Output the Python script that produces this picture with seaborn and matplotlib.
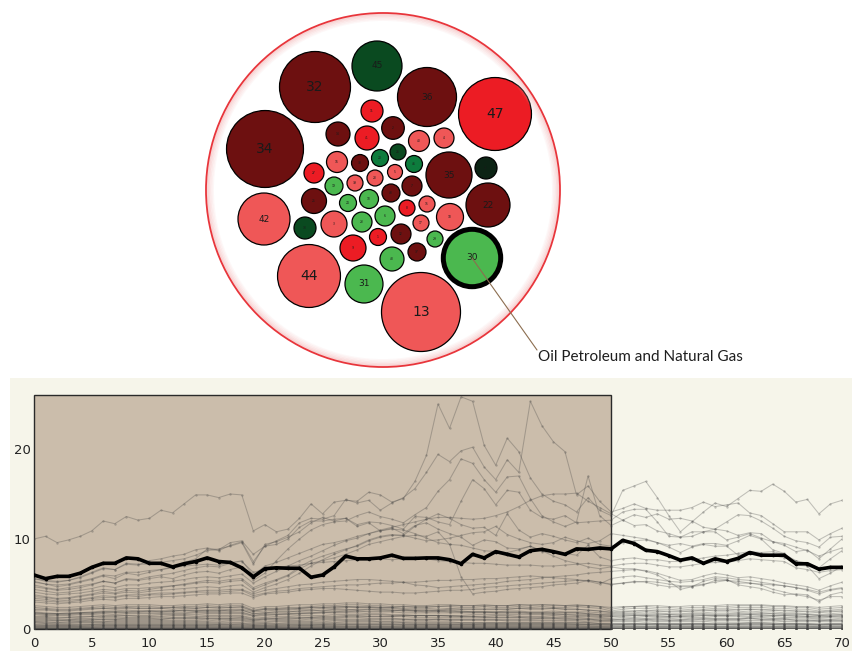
import numpy as np
import pandas as pd
import matplotlib
matplotlib.use("Agg")
import matplotlib.pyplot as plt
from matplotlib.patches import Circle, Rectangle
import seaborn as sns

# ---------------- bubble data ----------------
bubble_ids = [32, 45, 36, 47, 34, 35, 21, 22, 42, 44, 31, 13, 30,
              11, 14, 41, 2, 40, 4, 26, 20, 38, 16, 46, 27, 39, 28, 5, 7,
              19, 25, 24, 10, 43, 8, 15, 18, 33, 3, 23, 6, 17, 9, 1, 12,
              29, 37, 48]
bubble_value = [12.6, 6.25, 8.7, 13.3, 14.8, 5.3, 1.21, 4.84, 6.76, 9.9, 3.61, 15.6, 8.24,
                1.21, 1.44, 1.44, 1.28, 1.1, 1.0, 0.64, 0.72, 0.72, 1.1, 0.72, 1.0, 0.64,
                0.64, 0.56, 1.0, 0.81, 1.56, 0.72, 0.9, 0.81, 0.64, 0.64, 1.82, 1.21, 1.69,
                1.0, 1.0, 0.64, 1.69, 0.72, 1.0, 0.64, 0.81, 1.44]
bubble_group = ["deep_red", "dark_green", "deep_red", "red", "deep_red", "deep_red",
                "black_green", "deep_red", "salmon", "salmon", "green", "salmon", "green",
                "red", "deep_red", "red", "deep_red", "salmon", "salmon", "dark_green",
                "teal_green", "deep_red", "salmon", "teal_green", "red", "salmon", "salmon",
                "salmon", "deep_red", "green", "deep_red", "green", "green", "deep_red",
                "red", "salmon", "salmon", "dark_green", "salmon", "green", "green",
                "salmon", "red", "red", "deep_red", "green", "deep_red", "green"]

# packed layout of the bubbles (figure pixel space, y downwards)
bubble_x = [315, 377, 427, 495, 265, 449, 486, 488, 264, 309, 364, 421, 472,
            372, 338, 367, 393, 419, 444, 398, 380, 360, 337, 414, 314, 355, 375, 395, 412,
            334, 314, 348, 369, 391, 407, 427, 450, 305, 334, 362, 385, 421, 353, 378, 401,
            435, 417, 392]
bubble_y = [87, 66, 97, 114, 149, 175, 168, 205, 219, 276, 284, 312, 258,
            111, 134, 138, 128, 141, 138, 152, 158, 163, 162, 164, 173, 183, 178, 172, 186,
            186, 201, 203, 199, 193, 208, 204, 217, 228, 224, 222, 216, 223, 248, 237, 234,
            239, 252, 259]

group_colors = {
    "deep_red": "#6d1010",
    "red": "#ec1c24",
    "salmon": "#ef5757",
    "green": "#4bb84f",
    "teal_green": "#0d7c3d",
    "dark_green": "#0a4a20",
    "black_green": "#0c2314",
}

highlight_id = 30
highlight_name = "Oil Petroleum and Natural Gas"

# ---------------- time series ----------------
steps = list(range(71))

s30 = [6.0, 5.6, 5.85, 5.85, 6.2, 6.85, 7.3, 7.3, 7.9, 7.8,
       7.3, 7.3, 6.9, 7.25, 7.5, 7.9, 7.5, 7.4, 6.8, 5.8,
       6.7, 6.8, 6.75, 6.75, 5.75, 6.0, 6.9, 8.1, 7.8, 7.8,
       7.9, 8.2, 7.85, 7.85, 7.9, 7.9, 7.7, 7.25, 8.3, 7.9,
       8.6, 8.3, 8.0, 8.7, 8.85, 8.6, 8.3, 8.9, 8.85, 9.0,
       8.9, 9.85, 9.5, 8.75, 8.6, 8.15, 7.65, 7.9, 7.3, 7.8,
       7.5, 7.85, 8.5, 8.2, 8.2, 8.2, 7.25, 7.25, 6.65, 6.85,
       6.85]

s34 = [10.0, 10.3, 9.6, 9.9, 10.3, 10.9, 12.0, 11.7, 12.5, 12.1,
       12.3, 13.2, 12.9, 13.9, 14.9, 14.9, 14.6, 15.0, 14.9, 10.9,
       11.6, 10.8, 11.1, 12.3, 13.9, 12.8, 14.1, 14.3, 14.2, 15.2,
       14.9, 14.1, 14.5, 16.4, 19.3, 25.0, 22.3, 25.8, 25.3, 20.4,
       18.2, 21.2, 19.7, 16.8, 15.0, 14.2, 13.8, 13.0, 14.6, 13.2,
       12.6, 15.4, 15.9, 16.4, 14.6, 12.6, 10.8, 11.9, 13.0, 14.0,
       13.6, 14.5, 15.4, 15.3, 16.1, 15.3, 14.1, 14.4, 12.8, 13.9,
       14.3]
s47 = [5.3, 5.0, 4.7, 4.9, 5.2, 5.5, 5.9, 5.6, 6.2, 6.0,
       6.3, 6.6, 6.9, 7.4, 7.8, 8.9, 8.7, 9.3, 9.7, 7.5,
       9.2, 9.8, 10.4, 11.8, 12.3, 12.2, 12.6, 14.4, 14.0, 14.3,
       13.2, 14.0, 14.6, 15.6, 17.4, 19.4, 18.6, 19.8, 20.2, 18.0,
       16.6, 18.8, 17.4, 25.3, 22.6, 20.8, 19.7, 14.9, 15.9, 14.2,
       13.0, 13.4, 13.9, 13.4, 13.2, 13.2, 13.2, 13.5, 14.1, 13.6,
       13.8, 14.0, 12.9, 12.6, 11.7, 10.8, 10.8, 10.8, 9.9, 10.6,
       11.2]
s32 = [5.6, 5.3, 5.2, 5.4, 5.8, 6.3, 6.8, 6.6, 7.2, 7.1,
       7.6, 7.8, 8.1, 8.3, 8.8, 9.0, 8.8, 9.6, 9.8, 8.3,
       9.2, 9.4, 10.0, 11.3, 12.0, 12.0, 12.2, 12.3, 11.6, 11.9,
       11.8, 11.5, 11.1, 12.5, 12.4, 11.9, 11.6, 14.2, 16.6, 15.6,
       13.8, 15.4, 15.2, 13.2, 12.4, 12.2, 12.6, 11.8, 11.9, 12.0,
       12.1, 13.0, 13.3, 13.3, 11.9, 10.3, 10.2, 10.3, 10.8, 10.8,
       9.9, 10.2, 10.6, 10.1, 9.7, 9.3, 8.6, 8.8, 7.8, 8.9,
       10.0]
s13 = [4.9, 4.6, 4.4, 4.6, 4.8, 5.0, 5.3, 5.1, 5.5, 5.4,
       5.6, 5.8, 5.6, 6.0, 6.3, 6.4, 6.2, 6.6, 6.9, 5.4,
       6.2, 7.6, 8.9, 10.0, 11.0, 11.6, 11.9, 12.0, 12.6, 13.0,
       12.5, 12.2, 11.8, 12.7, 13.5, 15.3, 16.6, 18.9, 18.4, 16.6,
       15.2, 16.9, 17.0, 14.5, 12.6, 11.9, 11.4, 11.9, 17.0, 12.6,
       11.5, 12.1, 12.7, 12.4, 12.8, 12.2, 12.3, 12.0, 11.3, 11.1,
       11.9, 12.7, 12.6, 12.0, 11.2, 10.3, 9.8, 9.6, 9.1, 10.2,
       10.3]
s44 = [4.4, 4.2, 4.0, 4.1, 4.3, 4.5, 4.8, 4.6, 4.9, 4.9,
       5.1, 5.2, 5.3, 5.5, 5.7, 5.8, 5.7, 5.9, 6.1, 5.1,
       5.8, 6.4, 7.0, 7.6, 8.1, 8.7, 9.3, 9.8, 10.1, 10.6,
       11.0, 11.3, 11.6, 11.9, 12.2, 12.4, 12.4, 12.3, 12.2, 12.3,
       12.6, 13.0, 13.6, 14.3, 14.8, 15.0, 15.0, 15.1, 14.2, 13.5,
       12.8, 12.1, 11.5, 11.6, 10.9, 10.6, 10.2, 10.8, 10.8, 11.1,
       10.9, 10.4, 10.7, 10.6, 9.7, 9.5, 9.1, 8.7, 8.1, 8.6,
       9.0]
s36 = [3.8, 3.6, 3.4, 3.5, 3.7, 3.9, 4.2, 4.0, 4.3, 4.2,
       4.4, 4.6, 4.8, 5.0, 5.2, 5.4, 5.3, 5.5, 5.6, 4.6,
       5.1, 5.5, 6.0, 6.9, 7.6, 8.1, 8.5, 8.9, 9.2, 9.8,
       10.2, 10.4, 10.4, 11.4, 12.2, 12.8, 12.3, 11.6, 11.2, 11.3,
       10.4, 12.8, 11.0, 10.2, 10.6, 10.3, 9.9, 9.6, 10.1, 9.4,
       9.2, 9.6, 9.8, 9.9, 9.6, 9.1, 8.5, 9.1, 9.4, 9.2,
       9.2, 8.2, 8.5, 8.4, 8.2, 7.9, 7.6, 7.3, 6.8, 7.8,
       8.7]
s42 = [5.6, 5.4, 5.3, 5.4, 5.7, 6.2, 6.7, 6.6, 7.3, 7.2,
       7.2, 7.4, 7.6, 7.8, 8.2, 8.7, 8.9, 9.2, 9.6, 7.2,
       9.4, 9.7, 10.2, 10.8, 11.8, 12.4, 12.0, 12.3, 11.4, 11.8,
       10.9, 11.2, 10.6, 11.5, 11.8, 11.1, 10.6, 10.2, 9.3, 9.9,
       9.7, 9.0, 8.9, 9.2, 8.6, 8.5, 8.4, 8.2, 9.3, 8.0,
       7.6, 7.8, 7.9, 7.7, 7.7, 7.5, 7.5, 7.7, 7.9, 8.1,
       8.2, 8.4, 8.6, 8.5, 8.6, 8.3, 7.6, 7.0, 6.7, 6.8,
       7.0]
s22 = [4.1, 3.9, 3.8, 3.9, 4.0, 4.2, 4.4, 4.3, 4.5, 4.5,
       4.6, 4.7, 4.8, 4.9, 5.1, 5.2, 5.1, 5.3, 5.4, 4.4,
       4.9, 5.4, 5.9, 6.7, 7.3, 7.6, 7.9, 8.3, 8.8, 9.4,
       9.7, 10.0, 10.3, 10.4, 10.3, 10.8, 9.4, 5.8, 3.9, 4.1,
       4.2, 4.4, 4.5, 4.6, 4.7, 4.9, 5.0, 5.1, 5.4, 5.2,
       5.0, 5.1, 5.2, 5.3, 5.2, 5.0, 4.8, 4.8, 5.0, 5.2,
       5.4, 5.3, 5.1, 5.0, 4.9, 4.8, 4.6, 4.4, 4.1, 4.4,
       4.6]
s45 = [5.2, 5.0, 4.9, 5.0, 5.3, 5.6, 6.0, 5.9, 6.3, 6.3,
       6.5, 6.6, 6.8, 7.0, 7.1, 7.2, 7.1, 7.4, 7.5, 6.3,
       6.6, 6.8, 7.0, 7.1, 7.3, 7.4, 7.5, 7.6, 7.7, 7.8,
       7.8, 7.7, 7.8, 7.9, 7.8, 7.6, 7.5, 7.4, 7.3, 7.3,
       7.2, 7.1, 7.1, 7.1, 7.0, 7.0, 7.1, 7.2, 7.3, 7.1,
       7.0, 7.2, 7.3, 7.3, 7.1, 6.9, 6.9, 7.1, 7.3, 7.4,
       7.4, 7.6, 7.8, 7.7, 7.6, 7.5, 6.8, 6.6, 6.3, 6.5,
       6.6]
s35 = [3.4, 3.3, 3.1, 3.2, 3.3, 3.5, 3.7, 3.6, 3.8, 3.8,
       3.9, 4.0, 4.0, 4.1, 4.2, 4.3, 4.3, 4.4, 4.4, 3.9,
       4.3, 4.5, 4.7, 4.9, 5.0, 5.2, 5.3, 5.4, 5.5, 5.5,
       5.4, 5.3, 5.2, 4.9, 4.8, 4.6, 4.7, 4.8, 4.9, 5.0,
       5.1, 5.3, 5.4, 5.5, 5.7, 5.8, 5.9, 6.0, 6.2, 6.3,
       6.4, 6.5, 6.6, 6.5, 6.2, 5.8, 5.4, 5.5, 5.9, 6.2,
       6.0, 5.7, 5.8, 5.6, 5.4, 5.1, 4.9, 4.7, 4.3, 4.8,
       5.2]
s31 = [3.0, 2.9, 2.8, 2.9, 3.0, 3.2, 3.3, 3.2, 3.4, 3.4,
       3.5, 3.6, 3.6, 3.7, 3.8, 3.9, 3.9, 4.0, 4.0, 3.5,
       3.9, 4.0, 4.1, 4.3, 4.4, 4.5, 4.5, 4.4, 4.3, 4.2,
       4.1, 4.1, 4.0, 4.0, 4.1, 4.2, 4.3, 4.3, 4.4, 4.6,
       4.7, 4.8, 4.9, 5.0, 5.1, 5.2, 5.3, 5.4, 5.4, 5.2,
       4.9, 5.1, 5.3, 5.2, 4.9, 4.7, 4.7, 4.7, 4.9, 5.4,
       5.4, 5.1, 5.1, 4.9, 4.4, 4.1, 3.8, 3.6, 3.2, 3.6,
       3.6]
s18 = [4.7, 4.5, 4.3, 4.4, 4.6, 4.9, 5.3, 5.1, 5.6, 5.5,
       5.8, 6.0, 6.2, 6.5, 6.8, 7.0, 6.9, 7.3, 7.6, 6.0,
       7.0, 7.4, 7.9, 8.4, 8.9, 9.4, 9.6, 9.9, 10.3, 10.6,
       10.9, 11.1, 11.0, 10.6, 10.1, 9.6, 9.4, 9.3, 9.0, 8.7,
       8.6, 8.5, 8.8, 9.2, 8.7, 8.1, 7.6, 7.3, 6.9, 6.7,
       6.9, 6.7, 6.7, 6.4, 6.0, 5.3, 4.4, 4.7, 5.3, 5.6,
       5.5, 4.9, 4.7, 4.5, 4.1, 3.8, 3.9, 3.8, 3.0, 3.8,
       4.1]
s9 = [3.6, 3.5, 3.3, 3.4, 3.6, 3.8, 4.0, 3.9, 4.1, 4.0,
      4.2, 4.3, 4.4, 4.5, 4.6, 4.7, 4.6, 4.8, 4.9, 4.1,
      4.6, 5.0, 5.5, 6.2, 7.0, 7.7, 8.3, 8.8, 9.3, 9.9,
      10.3, 10.5, 10.4, 10.1, 9.8, 9.9, 10.1, 10.4, 10.7, 10.8,
      11.4, 10.5, 10.0, 9.6, 9.4, 9.6, 10.2, 9.8, 9.5, 9.8,
      10.6, 10.4, 10.2, 10.0, 9.6, 9.3, 9.5, 9.2, 9.5, 9.5,
      9.3, 9.8, 10.4, 10.0, 8.8, 8.4, 7.1, 7.0, 5.6, 6.2,
      7.0]
s3 = [3.2, 3.1, 3.0, 3.0, 3.2, 3.4, 3.5, 3.5, 3.7, 3.6,
      3.8, 3.8, 3.9, 4.0, 4.1, 4.1, 4.1, 4.2, 4.3, 3.7,
      4.0, 4.2, 4.3, 4.5, 4.6, 4.7, 4.8, 4.9, 4.9, 5.0,
      5.1, 5.1, 5.2, 5.2, 5.3, 5.4, 5.4, 5.5, 5.5, 5.6,
      5.6, 5.7, 5.8, 5.9, 5.8, 5.7, 5.6, 5.5, 5.3, 5.0,
      5.6, 5.8, 5.9, 5.7, 5.5, 5.3, 5.2, 5.3, 5.5, 5.8,
      5.7, 5.5, 5.4, 5.2, 5.0, 4.8, 4.6, 4.3, 3.9, 4.3,
      4.5]

s41 = [2.6, 2.5, 2.4, 2.4, 2.5, 2.6, 2.7, 2.6, 2.7, 2.7, 2.7, 2.6, 2.6, 2.7, 2.7, 2.8, 2.7, 2.8, 2.8, 2.3, 2.5, 2.5, 2.6, 2.7, 2.7, 2.8, 2.8, 2.9, 2.9, 2.8, 2.8, 2.7, 2.7, 2.6, 2.6, 2.7, 2.7, 2.6, 2.6, 2.7, 2.6, 2.6, 2.7, 2.6, 2.7, 2.6, 2.6, 2.7, 2.6, 2.5, 2.2, 2.4, 2.5, 2.5, 2.4, 2.4, 2.3, 2.4, 2.4, 2.5, 2.5, 2.6, 2.6, 2.6, 2.5, 2.5, 2.4, 2.4, 2.2, 2.3, 2.4]
s2 = [2.4, 2.3, 2.2, 2.2, 2.3, 2.4, 2.5, 2.4, 2.5, 2.5, 2.5, 2.4, 2.4, 2.5, 2.5, 2.6, 2.5, 2.6, 2.6, 2.1, 2.3, 2.3, 2.4, 2.4, 2.5, 2.6, 2.6, 2.7, 2.7, 2.6, 2.6, 2.5, 2.5, 2.4, 2.4, 2.5, 2.5, 2.4, 2.4, 2.5, 2.4, 2.4, 2.5, 2.4, 2.5, 2.4, 2.4, 2.5, 2.4, 2.3, 2.0, 2.2, 2.3, 2.3, 2.2, 2.2, 2.1, 2.2, 2.2, 2.3, 2.3, 2.4, 2.4, 2.4, 2.3, 2.3, 2.2, 2.2, 2.0, 2.1, 2.2]
s40 = [2.1, 2.1, 2.0, 2.0, 2.1, 2.2, 2.3, 2.2, 2.3, 2.3, 2.3, 2.3, 2.2, 2.3, 2.3, 2.4, 2.3, 2.4, 2.4, 2.0, 2.2, 2.2, 2.3, 2.3, 2.4, 2.4, 2.4, 2.5, 2.5, 2.4, 2.3, 2.3, 2.2, 2.1, 2.1, 2.0, 2.0, 1.9, 1.9, 1.9, 1.8, 1.8, 1.8, 1.7, 1.7, 1.7, 1.6, 1.6, 1.6, 1.5, 1.4, 1.5, 1.5, 1.5, 1.4, 1.4, 1.4, 1.4, 1.5, 1.5, 1.5, 1.5, 1.6, 1.5, 1.5, 1.5, 1.4, 1.4, 1.3, 1.4, 1.4]
s4 = [1.8, 1.7, 1.7, 1.7, 1.8, 1.8, 1.9, 1.9, 1.9, 2.0, 2.0, 2.0, 2.0, 2.1, 2.1, 2.1, 2.1, 2.2, 2.2, 1.9, 2.0, 2.1, 2.1, 2.2, 2.2, 2.3, 2.3, 2.4, 2.4, 2.4, 2.4, 2.4, 2.5, 2.5, 2.5, 2.5, 2.6, 2.6, 2.6, 2.6, 2.6, 2.6, 2.7, 2.7, 2.7, 2.7, 2.6, 2.6, 2.6, 2.5, 2.4, 2.5, 2.5, 2.6, 2.6, 2.5, 2.5, 2.6, 2.6, 2.6, 2.7, 2.7, 2.7, 2.7, 2.6, 2.6, 2.5, 2.5, 2.4, 2.5, 2.6]
s26 = [1.9, 1.8, 1.7, 1.8, 1.8, 1.9, 2.0, 2.0, 2.1, 2.0, 2.0, 1.9, 2.0, 2.1, 2.0, 2.1, 2.1, 2.0, 2.1, 1.7, 1.8, 1.9, 1.9, 2.0, 2.1, 2.0, 2.2, 2.2, 2.1, 2.2, 2.1, 2.1, 2.0, 2.0, 1.9, 2.0, 2.1, 2.0, 1.9, 1.9, 1.9, 2.0, 2.0, 1.9, 1.9, 2.0, 1.9, 1.9, 1.9, 1.8, 1.7, 1.8, 1.8, 1.9, 1.8, 1.7, 1.7, 1.8, 1.8, 1.9, 1.9, 1.9, 2.0, 1.9, 1.9, 1.8, 1.8, 1.7, 1.6, 1.7, 1.8]
s20 = [1.7, 1.6, 1.6, 1.6, 1.7, 1.7, 1.8, 1.8, 1.8, 1.8, 1.8, 1.8, 1.8, 1.8, 1.9, 1.9, 1.9, 1.9, 1.9, 1.5, 1.7, 1.7, 1.7, 1.8, 1.8, 1.9, 1.9, 2.0, 2.0, 1.9, 1.9, 1.9, 1.8, 1.8, 1.8, 1.8, 1.8, 1.8, 1.8, 1.8, 1.8, 1.8, 1.8, 1.8, 1.8, 1.8, 1.8, 1.8, 1.7, 1.6, 1.5, 1.6, 1.6, 1.6, 1.6, 1.6, 1.5, 1.6, 1.6, 1.6, 1.6, 1.7, 1.7, 1.7, 1.7, 1.6, 1.6, 1.6, 1.5, 1.5, 1.6]
s38 = [1.4, 1.4, 1.3, 1.3, 1.4, 1.4, 1.5, 1.5, 1.5, 1.5, 1.5, 1.6, 1.6, 1.6, 1.6, 1.7, 1.7, 1.7, 1.7, 1.4, 1.5, 1.6, 1.6, 1.7, 1.8, 1.8, 1.9, 1.9, 2.0, 2.0, 2.0, 2.0, 2.1, 2.1, 2.1, 2.1, 2.2, 2.2, 2.2, 2.2, 2.2, 2.2, 2.3, 2.3, 2.3, 2.3, 2.2, 2.2, 2.1, 2.0, 1.9, 2.0, 2.0, 2.1, 2.0, 2.0, 2.0, 2.0, 2.1, 2.1, 2.1, 2.2, 2.2, 2.2, 2.1, 2.1, 2.0, 2.0, 1.9, 2.0, 2.0]
s16 = [1.6, 1.5, 1.5, 1.5, 1.6, 1.6, 1.7, 1.6, 1.7, 1.7, 1.7, 1.7, 1.7, 1.7, 1.8, 1.8, 1.8, 1.8, 1.8, 1.5, 1.6, 1.6, 1.7, 1.7, 1.7, 1.8, 1.8, 1.8, 1.8, 1.7, 1.7, 1.6, 1.6, 1.5, 1.5, 1.5, 1.4, 1.4, 1.4, 1.3, 1.3, 1.3, 1.3, 1.2, 1.2, 1.2, 1.2, 1.1, 1.1, 1.0, 1.0, 1.1, 1.1, 1.1, 1.0, 1.0, 1.0, 1.0, 1.1, 1.1, 1.1, 1.1, 1.2, 1.1, 1.1, 1.1, 1.0, 1.0, 0.9, 1.0, 1.0]
s46 = [1.3, 1.3, 1.2, 1.3, 1.3, 1.4, 1.4, 1.4, 1.5, 1.4, 1.4, 1.4, 1.5, 1.5, 1.4, 1.5, 1.5, 1.5, 1.5, 1.2, 1.3, 1.4, 1.4, 1.5, 1.5, 1.5, 1.6, 1.6, 1.6, 1.6, 1.6, 1.5, 1.5, 1.5, 1.5, 1.5, 1.5, 1.4, 1.4, 1.4, 1.5, 1.5, 1.4, 1.4, 1.4, 1.5, 1.4, 1.4, 1.4, 1.3, 1.2, 1.3, 1.3, 1.4, 1.3, 1.3, 1.3, 1.3, 1.3, 1.4, 1.4, 1.4, 1.4, 1.4, 1.4, 1.3, 1.3, 1.3, 1.2, 1.3, 1.3]
s27 = [1.2, 1.2, 1.1, 1.1, 1.2, 1.2, 1.3, 1.3, 1.3, 1.3, 1.3, 1.3, 1.3, 1.3, 1.3, 1.4, 1.4, 1.4, 1.4, 1.1, 1.2, 1.2, 1.3, 1.3, 1.3, 1.4, 1.4, 1.5, 1.5, 1.4, 1.4, 1.4, 1.4, 1.3, 1.3, 1.3, 1.3, 1.3, 1.3, 1.3, 1.3, 1.3, 1.3, 1.3, 1.3, 1.3, 1.3, 1.3, 1.2, 1.2, 1.1, 1.1, 1.2, 1.2, 1.2, 1.2, 1.1, 1.2, 1.2, 1.2, 1.2, 1.2, 1.3, 1.3, 1.2, 1.2, 1.2, 1.2, 1.1, 1.1, 1.2]
s39 = [1.0, 1.0, 0.9, 1.0, 1.0, 1.0, 1.1, 1.1, 1.1, 1.1, 1.1, 1.1, 1.2, 1.2, 1.2, 1.2, 1.2, 1.2, 1.3, 1.0, 1.1, 1.2, 1.2, 1.2, 1.3, 1.3, 1.3, 1.4, 1.4, 1.4, 1.4, 1.4, 1.5, 1.5, 1.5, 1.5, 1.5, 1.5, 1.6, 1.6, 1.6, 1.6, 1.6, 1.6, 1.6, 1.6, 1.6, 1.5, 1.5, 1.4, 1.4, 1.4, 1.5, 1.5, 1.5, 1.4, 1.4, 1.5, 1.5, 1.5, 1.5, 1.6, 1.6, 1.6, 1.5, 1.5, 1.5, 1.4, 1.4, 1.4, 1.5]
s28 = [1.1, 1.1, 1.0, 1.0, 1.1, 1.1, 1.1, 1.1, 1.2, 1.2, 1.2, 1.1, 1.2, 1.2, 1.2, 1.2, 1.2, 1.2, 1.2, 1.0, 1.1, 1.1, 1.1, 1.2, 1.2, 1.2, 1.2, 1.3, 1.3, 1.2, 1.2, 1.2, 1.1, 1.1, 1.1, 1.1, 1.0, 1.0, 1.0, 1.0, 1.0, 0.9, 0.9, 0.9, 0.9, 0.9, 0.9, 0.9, 0.8, 0.8, 0.8, 0.8, 0.8, 0.9, 0.8, 0.8, 0.8, 0.8, 0.8, 0.9, 0.9, 0.9, 0.9, 0.9, 0.9, 0.8, 0.8, 0.8, 0.8, 0.8, 0.8]
s5 = [0.9, 0.9, 0.9, 0.9, 0.9, 1.0, 1.0, 1.0, 1.0, 1.0, 1.0, 1.0, 1.0, 1.0, 1.0, 1.1, 1.1, 1.1, 1.1, 0.9, 1.0, 1.0, 1.0, 1.0, 1.1, 1.1, 1.1, 1.1, 1.1, 1.1, 1.1, 1.1, 1.1, 1.0, 1.0, 1.0, 1.0, 1.0, 1.0, 1.0, 1.0, 1.0, 1.0, 1.0, 1.0, 1.0, 1.0, 1.0, 1.0, 0.9, 0.9, 0.9, 0.9, 1.0, 0.9, 0.9, 0.9, 0.9, 0.9, 1.0, 1.0, 1.0, 1.0, 1.0, 1.0, 0.9, 0.9, 0.9, 0.9, 0.9, 0.9]
s7 = [0.8, 0.8, 0.7, 0.8, 0.8, 0.8, 0.8, 0.9, 0.9, 0.9, 0.9, 0.9, 0.9, 0.9, 0.9, 0.9, 1.0, 1.0, 1.0, 0.8, 0.8, 0.9, 0.9, 0.9, 0.9, 1.0, 1.0, 1.0, 1.0, 1.0, 1.0, 1.0, 1.0, 1.0, 1.0, 1.1, 1.1, 1.1, 1.1, 1.1, 1.1, 1.1, 1.1, 1.1, 1.2, 1.2, 1.1, 1.1, 1.1, 1.0, 1.0, 1.0, 1.0, 1.1, 1.1, 1.0, 1.0, 1.1, 1.1, 1.1, 1.1, 1.1, 1.2, 1.1, 1.1, 1.1, 1.0, 1.0, 1.0, 1.0, 1.0]
s19 = [0.8, 0.7, 0.7, 0.7, 0.8, 0.8, 0.8, 0.8, 0.8, 0.8, 0.8, 0.8, 0.8, 0.8, 0.8, 0.8, 0.8, 0.9, 0.9, 0.7, 0.7, 0.8, 0.8, 0.8, 0.8, 0.8, 0.9, 0.9, 0.9, 0.9, 0.8, 0.8, 0.8, 0.8, 0.8, 0.8, 0.8, 0.7, 0.7, 0.7, 0.7, 0.7, 0.7, 0.7, 0.7, 0.7, 0.7, 0.7, 0.7, 0.6, 0.6, 0.6, 0.6, 0.7, 0.6, 0.6, 0.6, 0.6, 0.6, 0.7, 0.7, 0.7, 0.7, 0.7, 0.7, 0.6, 0.6, 0.6, 0.6, 0.6, 0.6]
s25 = [0.7, 0.6, 0.6, 0.6, 0.7, 0.7, 0.7, 0.7, 0.7, 0.7, 0.7, 0.7, 0.7, 0.7, 0.7, 0.7, 0.7, 0.7, 0.7, 0.6, 0.6, 0.6, 0.7, 0.7, 0.7, 0.7, 0.7, 0.8, 0.8, 0.8, 0.8, 0.8, 0.7, 0.7, 0.7, 0.7, 0.7, 0.7, 0.7, 0.7, 0.7, 0.7, 0.7, 0.7, 0.7, 0.7, 0.7, 0.7, 0.7, 0.6, 0.6, 0.6, 0.6, 0.6, 0.6, 0.6, 0.6, 0.6, 0.6, 0.6, 0.6, 0.6, 0.7, 0.7, 0.6, 0.6, 0.6, 0.6, 0.5, 0.6, 0.6]
s24 = [0.55, 0.55, 0.5, 0.5, 0.55, 0.55, 0.6, 0.6, 0.6, 0.6, 0.6, 0.6, 0.6, 0.6, 0.6, 0.6, 0.6, 0.65, 0.65, 0.5, 0.55, 0.55, 0.6, 0.6, 0.6, 0.6, 0.65, 0.65, 0.65, 0.65, 0.65, 0.65, 0.65, 0.6, 0.6, 0.6, 0.6, 0.6, 0.6, 0.6, 0.6, 0.6, 0.6, 0.6, 0.6, 0.6, 0.6, 0.6, 0.55, 0.55, 0.5, 0.5, 0.55, 0.55, 0.55, 0.5, 0.5, 0.55, 0.55, 0.55, 0.55, 0.55, 0.6, 0.6, 0.55, 0.55, 0.55, 0.5, 0.5, 0.5, 0.5]
s10 = [0.5, 0.45, 0.45, 0.45, 0.5, 0.5, 0.5, 0.5, 0.5, 0.5, 0.5, 0.5, 0.5, 0.5, 0.5, 0.5, 0.5, 0.5, 0.55, 0.45, 0.45, 0.5, 0.5, 0.5, 0.5, 0.5, 0.55, 0.55, 0.55, 0.55, 0.55, 0.55, 0.5, 0.5, 0.5, 0.5, 0.5, 0.5, 0.5, 0.5, 0.5, 0.5, 0.5, 0.5, 0.5, 0.5, 0.5, 0.5, 0.5, 0.45, 0.45, 0.45, 0.45, 0.5, 0.45, 0.45, 0.45, 0.45, 0.45, 0.5, 0.5, 0.5, 0.5, 0.5, 0.5, 0.45, 0.45, 0.45, 0.4, 0.45, 0.45]
s43 = [0.4, 0.4, 0.4, 0.4, 0.4, 0.45, 0.45, 0.45, 0.45, 0.45, 0.45, 0.45, 0.45, 0.45, 0.45, 0.45, 0.5, 0.5, 0.5, 0.4, 0.4, 0.4, 0.45, 0.45, 0.45, 0.5, 0.5, 0.5, 0.5, 0.5, 0.5, 0.5, 0.5, 0.5, 0.5, 0.5, 0.5, 0.5, 0.5, 0.55, 0.55, 0.55, 0.55, 0.55, 0.55, 0.55, 0.55, 0.5, 0.5, 0.5, 0.45, 0.5, 0.5, 0.5, 0.5, 0.5, 0.5, 0.5, 0.5, 0.5, 0.5, 0.55, 0.55, 0.55, 0.5, 0.5, 0.5, 0.5, 0.45, 0.5, 0.5]
s8 = [0.35, 0.35, 0.35, 0.35, 0.35, 0.4, 0.4, 0.4, 0.4, 0.4, 0.4, 0.4, 0.4, 0.4, 0.4, 0.4, 0.4, 0.4, 0.4, 0.35, 0.35, 0.35, 0.4, 0.4, 0.4, 0.4, 0.4, 0.45, 0.45, 0.45, 0.45, 0.45, 0.4, 0.4, 0.4, 0.4, 0.4, 0.4, 0.4, 0.4, 0.4, 0.4, 0.4, 0.4, 0.4, 0.4, 0.4, 0.4, 0.4, 0.35, 0.35, 0.35, 0.35, 0.35, 0.35, 0.35, 0.35, 0.35, 0.35, 0.35, 0.35, 0.4, 0.4, 0.4, 0.35, 0.35, 0.35, 0.35, 0.3, 0.35, 0.35]
s15 = [0.3, 0.3, 0.3, 0.3, 0.3, 0.3, 0.35, 0.35, 0.35, 0.35, 0.35, 0.35, 0.35, 0.35, 0.35, 0.35, 0.35, 0.35, 0.35, 0.3, 0.3, 0.3, 0.3, 0.35, 0.35, 0.35, 0.35, 0.35, 0.35, 0.35, 0.35, 0.35, 0.35, 0.35, 0.35, 0.35, 0.35, 0.35, 0.35, 0.35, 0.35, 0.35, 0.35, 0.35, 0.35, 0.35, 0.35, 0.35, 0.3, 0.3, 0.3, 0.3, 0.3, 0.3, 0.3, 0.3, 0.3, 0.3, 0.3, 0.3, 0.3, 0.3, 0.3, 0.3, 0.3, 0.3, 0.3, 0.3, 0.25, 0.3, 0.3]
s33 = [0.25, 0.25, 0.25, 0.25, 0.25, 0.25, 0.28, 0.28, 0.28, 0.28, 0.28, 0.28, 0.28, 0.28, 0.28, 0.28, 0.28, 0.28, 0.28, 0.24, 0.25, 0.25, 0.25, 0.27, 0.27, 0.28, 0.28, 0.29, 0.29, 0.29, 0.29, 0.28, 0.28, 0.28, 0.28, 0.28, 0.28, 0.28, 0.28, 0.28, 0.28, 0.28, 0.28, 0.28, 0.28, 0.28, 0.28, 0.27, 0.26, 0.25, 0.24, 0.25, 0.25, 0.25, 0.25, 0.25, 0.24, 0.25, 0.25, 0.25, 0.25, 0.25, 0.26, 0.26, 0.25, 0.25, 0.25, 0.24, 0.23, 0.24, 0.24]
s23 = [0.2, 0.2, 0.2, 0.2, 0.2, 0.2, 0.22, 0.22, 0.22, 0.22, 0.22, 0.22, 0.22, 0.22, 0.22, 0.22, 0.22, 0.22, 0.22, 0.2, 0.2, 0.2, 0.2, 0.22, 0.22, 0.22, 0.24, 0.24, 0.24, 0.24, 0.24, 0.24, 0.22, 0.22, 0.22, 0.22, 0.22, 0.22, 0.22, 0.22, 0.22, 0.22, 0.22, 0.22, 0.22, 0.22, 0.22, 0.22, 0.2, 0.2, 0.18, 0.2, 0.2, 0.2, 0.2, 0.2, 0.2, 0.2, 0.2, 0.2, 0.2, 0.2, 0.2, 0.2, 0.2, 0.2, 0.2, 0.2, 0.18, 0.2, 0.2]
s6 = [0.15, 0.15, 0.14, 0.14, 0.15, 0.15, 0.16, 0.16, 0.16, 0.16, 0.16, 0.16, 0.16, 0.16, 0.17, 0.17, 0.17, 0.17, 0.17, 0.14, 0.15, 0.15, 0.16, 0.16, 0.16, 0.17, 0.17, 0.18, 0.18, 0.18, 0.18, 0.17, 0.17, 0.17, 0.17, 0.17, 0.17, 0.17, 0.17, 0.17, 0.17, 0.17, 0.17, 0.17, 0.17, 0.17, 0.17, 0.16, 0.16, 0.15, 0.14, 0.15, 0.15, 0.15, 0.15, 0.15, 0.15, 0.15, 0.15, 0.15, 0.15, 0.16, 0.16, 0.16, 0.15, 0.15, 0.15, 0.15, 0.14, 0.14, 0.15]
s17 = [0.1, 0.1, 0.1, 0.1, 0.1, 0.11, 0.11, 0.11, 0.11, 0.11, 0.11, 0.11, 0.11, 0.11, 0.11, 0.12, 0.12, 0.12, 0.12, 0.1, 0.1, 0.11, 0.11, 0.11, 0.12, 0.12, 0.12, 0.12, 0.12, 0.12, 0.12, 0.12, 0.12, 0.12, 0.12, 0.12, 0.12, 0.12, 0.12, 0.12, 0.12, 0.12, 0.12, 0.12, 0.12, 0.12, 0.12, 0.12, 0.11, 0.11, 0.1, 0.1, 0.11, 0.11, 0.11, 0.11, 0.1, 0.11, 0.11, 0.11, 0.11, 0.11, 0.11, 0.11, 0.11, 0.11, 0.1, 0.1, 0.1, 0.1, 0.1]
s1 = [0.07, 0.07, 0.07, 0.07, 0.07, 0.08, 0.08, 0.08, 0.08, 0.08, 0.08, 0.08, 0.08, 0.08, 0.08, 0.08, 0.08, 0.09, 0.09, 0.07, 0.07, 0.08, 0.08, 0.08, 0.08, 0.09, 0.09, 0.09, 0.09, 0.09, 0.09, 0.09, 0.09, 0.08, 0.08, 0.08, 0.08, 0.08, 0.08, 0.08, 0.08, 0.08, 0.08, 0.08, 0.08, 0.08, 0.08, 0.08, 0.08, 0.07, 0.07, 0.07, 0.07, 0.08, 0.07, 0.07, 0.07, 0.07, 0.07, 0.08, 0.08, 0.08, 0.08, 0.08, 0.08, 0.07, 0.07, 0.07, 0.07, 0.07, 0.07]
s12 = [0.05, 0.05, 0.05, 0.05, 0.05, 0.05, 0.05, 0.05, 0.06, 0.06, 0.06, 0.06, 0.06, 0.06, 0.06, 0.06, 0.06, 0.06, 0.06, 0.05, 0.05, 0.05, 0.05, 0.06, 0.06, 0.06, 0.06, 0.06, 0.06, 0.06, 0.06, 0.06, 0.06, 0.06, 0.06, 0.06, 0.06, 0.06, 0.06, 0.06, 0.06, 0.06, 0.06, 0.06, 0.06, 0.06, 0.06, 0.05, 0.05, 0.05, 0.05, 0.05, 0.05, 0.05, 0.05, 0.05, 0.05, 0.05, 0.05, 0.05, 0.05, 0.05, 0.05, 0.05, 0.05, 0.05, 0.05, 0.05, 0.04, 0.05, 0.05]
s29 = [0.035, 0.035, 0.035, 0.035, 0.035, 0.035, 0.04, 0.04, 0.04, 0.04, 0.04, 0.04, 0.04, 0.04, 0.04, 0.04, 0.04, 0.04, 0.04, 0.035, 0.035, 0.035, 0.035, 0.04, 0.04, 0.04, 0.04, 0.04, 0.04, 0.04, 0.04, 0.04, 0.04, 0.04, 0.04, 0.04, 0.04, 0.04, 0.04, 0.04, 0.04, 0.04, 0.04, 0.04, 0.04, 0.04, 0.04, 0.04, 0.035, 0.035, 0.03, 0.035, 0.035, 0.035, 0.035, 0.035, 0.035, 0.035, 0.035, 0.035, 0.035, 0.035, 0.035, 0.035, 0.035, 0.035, 0.035, 0.035, 0.03, 0.035, 0.035]
s37 = [0.025, 0.025, 0.025, 0.025, 0.025, 0.025, 0.025, 0.025, 0.025, 0.025, 0.025, 0.025, 0.025, 0.025, 0.03, 0.03, 0.03, 0.03, 0.03, 0.025, 0.025, 0.025, 0.025, 0.025, 0.03, 0.03, 0.03, 0.03, 0.03, 0.03, 0.03, 0.03, 0.03, 0.03, 0.03, 0.03, 0.03, 0.03, 0.03, 0.03, 0.03, 0.03, 0.03, 0.03, 0.03, 0.03, 0.03, 0.025, 0.025, 0.025, 0.025, 0.025, 0.025, 0.025, 0.025, 0.025, 0.025, 0.025, 0.025, 0.025, 0.025, 0.025, 0.025, 0.025, 0.025, 0.025, 0.025, 0.025, 0.02, 0.025, 0.025]
s48 = [0.015, 0.015, 0.015, 0.015, 0.015, 0.015, 0.015, 0.015, 0.015, 0.015, 0.015, 0.015, 0.015, 0.015, 0.015, 0.015, 0.015, 0.015, 0.015, 0.015, 0.015, 0.015, 0.015, 0.015, 0.015, 0.015, 0.02, 0.02, 0.02, 0.02, 0.02, 0.02, 0.02, 0.02, 0.02, 0.02, 0.02, 0.02, 0.02, 0.02, 0.02, 0.02, 0.02, 0.02, 0.02, 0.02, 0.015, 0.015, 0.015, 0.015, 0.015, 0.015, 0.015, 0.015, 0.015, 0.015, 0.015, 0.015, 0.015, 0.015, 0.015, 0.015, 0.015, 0.015, 0.015, 0.015, 0.015, 0.015, 0.015, 0.015, 0.015]
s21 = [0.01, 0.01, 0.01, 0.01, 0.01, 0.01, 0.01, 0.01, 0.01, 0.01, 0.01, 0.01, 0.01, 0.01, 0.01, 0.01, 0.01, 0.01, 0.01, 0.01, 0.01, 0.01, 0.01, 0.01, 0.01, 0.01, 0.01, 0.01, 0.01, 0.01, 0.01, 0.01, 0.01, 0.01, 0.01, 0.01, 0.01, 0.01, 0.01, 0.01, 0.01, 0.01, 0.01, 0.01, 0.01, 0.01, 0.01, 0.01, 0.01, 0.01, 0.01, 0.01, 0.01, 0.01, 0.01, 0.01, 0.01, 0.01, 0.01, 0.01, 0.01, 0.01, 0.01, 0.01, 0.01, 0.01, 0.01, 0.01, 0.01, 0.01, 0.01]
s11 = [2.2, 2.2, 2.1, 2.1, 2.2, 2.3, 2.3, 2.3, 2.4, 2.3, 2.3, 2.3, 2.4, 2.4, 2.3, 2.4, 2.4, 2.4, 2.5, 2.0, 2.2, 2.2, 2.2, 2.3, 2.4, 2.4, 2.5, 2.5, 2.4, 2.5, 2.4, 2.4, 2.3, 2.3, 2.3, 2.2, 2.3, 2.2, 2.2, 2.2, 2.2, 2.2, 2.3, 2.2, 2.2, 2.3, 2.2, 2.2, 2.1, 2.0, 1.8, 1.9, 2.0, 2.0, 2.0, 1.9, 1.9, 2.0, 2.0, 2.1, 2.1, 2.1, 2.2, 2.1, 2.1, 2.0, 2.0, 1.9, 1.8, 1.9, 2.0]
s14 = [1.8, 1.7, 1.7, 1.7, 1.8, 1.8, 1.9, 1.9, 1.9, 1.9, 2.0, 2.0, 2.0, 2.0, 2.0, 2.0, 2.0, 2.1, 2.1, 1.7, 1.8, 1.9, 1.9, 2.0, 2.0, 2.1, 2.1, 2.1, 2.2, 2.2, 2.2, 2.1, 2.1, 2.0, 2.0, 2.0, 1.9, 1.9, 1.9, 1.9, 1.9, 1.9, 1.9, 1.8, 1.8, 1.8, 1.8, 1.8, 1.7, 1.6, 1.6, 1.7, 1.7, 1.7, 1.7, 1.6, 1.6, 1.7, 1.7, 1.7, 1.7, 1.8, 1.8, 1.8, 1.7, 1.7, 1.7, 1.6, 1.5, 1.6, 1.6]

series_by_id = {
    34: s34, 47: s47, 32: s32, 13: s13, 44: s44, 36: s36, 42: s42, 22: s22,
    45: s45, 35: s35, 31: s31, 18: s18, 9: s9, 3: s3,
    41: s41, 2: s2, 40: s40, 4: s4, 26: s26, 20: s20, 38: s38, 16: s16,
    46: s46, 27: s27, 39: s39, 28: s28, 5: s5, 7: s7, 19: s19, 25: s25,
    24: s24, 10: s10, 43: s43, 8: s8, 15: s15, 33: s33, 23: s23, 6: s6,
    17: s17, 1: s1, 12: s12, 29: s29, 37: s37, 48: s48, 21: s21, 11: s11,
    14: s14,
}

window_end = 50
x_ticks = list(range(0, 71, 5))
y_ticks = [0, 10, 20]

# ---------------- figure ----------------
sns.set_theme(style="white")
plt.rcParams["font.family"] = ["DejaVu Sans"]

W, H = 852, 655
fig = plt.figure(figsize=(W / 100, H / 100), dpi=100)
fig.patch.set_facecolor("white")

# cream panel behind the time-series view
fig.patches.append(Rectangle((10 / W, 4 / H), 842 / W, 273 / H,
                             transform=fig.transFigure, facecolor="#f6f5ea",
                             edgecolor="none", zorder=-5))

# ---- bubble view ----
axb = fig.add_axes([0, 0, 1, 1])
axb.set_xlim(0, W)
axb.set_ylim(H, 0)
axb.set_aspect("equal")
axb.axis("off")
axb.patch.set_alpha(0)

for bid, val, grp, bx, by in zip(bubble_ids, bubble_value, bubble_group, bubble_x, bubble_y):
    r = 10 * np.sqrt(val)
    is_hl = bid == highlight_id
    axb.add_patch(Circle((bx, by), r, facecolor=group_colors[grp],
                         edgecolor="black", lw=3.6 if is_hl else 0.9, zorder=2))
    if r > 30:
        fs = 10
    elif r > 17:
        fs = 6.5
    else:
        fs = 2.2
    axb.text(bx, by, str(bid), ha="center", va="center", fontsize=fs,
             color="#1a1a1a", zorder=3)

# enclosing ring with a soft inner glow
ring_c, ring_r = (383, 190), 177
for k, a in enumerate([0.55, 0.4, 0.28, 0.18, 0.1]):
    axb.add_patch(Circle(ring_c, ring_r - 1.5 - 1.4 * k, facecolor="none",
                         edgecolor="#f4b5b5", lw=1.2, alpha=a, zorder=4))
axb.add_patch(Circle(ring_c, ring_r, facecolor="none", edgecolor="#e8353b",
                     lw=1.3, zorder=5))

# callout for the highlighted sector
hi = bubble_ids.index(highlight_id)
hx, hy = bubble_x[hi], bubble_y[hi]
axb.plot([hx, 537], [hy, 350], color="#8c6e50", lw=0.8, zorder=6)
axb.text(538, 357, highlight_name, ha="left", va="center", fontsize=11,
         family=["Lato", "DejaVu Sans"], color="#1e1e1e", zorder=6)

# ---- time-series view ----
ax = fig.add_axes([34 / W, 26 / H, 808 / W, 234 / H])
ax.set_facecolor("none")
ax.set_xlim(0, 70)
ax.set_ylim(0, 26)
ax.add_patch(Rectangle((0, 0), window_end, 26, facecolor="#cbbdab",
                       edgecolor="#2a2a2a", lw=1.0, zorder=0, clip_on=False))

rows = []
for sid, vals in series_by_id.items():
    for t, v in zip(steps, vals):
        rows.append((sid, t, v))
df = pd.DataFrame(rows, columns=["sector", "step", "value"])

sns.lineplot(data=df, x="step", y="value", units="sector", estimator=None,
             color="#404040", alpha=0.3, lw=0.75, marker="o", markersize=1.7,
             markeredgewidth=0, legend=False, ax=ax, zorder=2)
sns.lineplot(x=steps, y=s30, color="black", lw=2.6, marker="o", markersize=2.6,
             markeredgewidth=0, ax=ax, zorder=3)

for sp in ax.spines.values():
    sp.set_visible(False)
ax.set_xticks(x_ticks)
ax.set_yticks(y_ticks)
ax.set_xlabel("")
ax.set_ylabel("")
ax.tick_params(axis="both", direction="inout", length=3, width=3.2,
               colors="#111111", labelsize=9.5, labelcolor="#222222")
ax.tick_params(axis="x", pad=4)
ax.tick_params(axis="y", pad=1)
ax.grid(False)

fig.savefig("out.png", dpi=100)
